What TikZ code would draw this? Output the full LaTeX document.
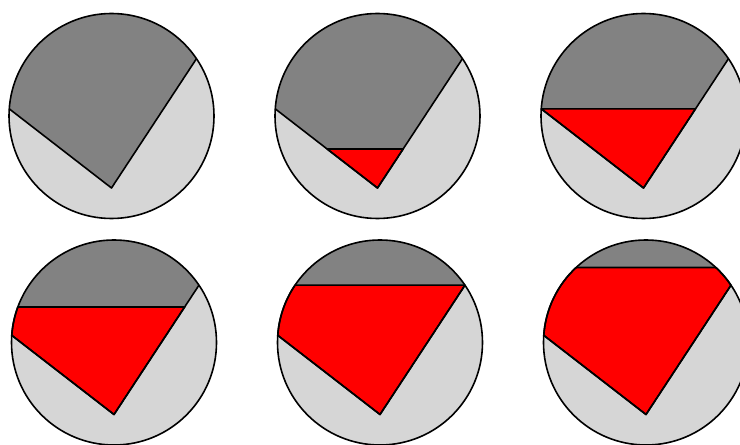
\documentclass[tikz,border=0pt]{standalone}
\usetikzlibrary{calc}
\definecolor{darkg}{RGB}{130,130,130}
\definecolor{lightg}{RGB}{214,214,214}
\tikzset{
  outline/.style={draw=black,line width=1.6pt,line join=round},
  redpart/.style={fill=red,draw=black,line width=1.6pt,line join=round}
}
\newcommand{\pieset}{%
  \coordinate (A) at (0pt,-72pt);
  \coordinate (L) at (176:102.5pt);
  \coordinate (R) at (34:102.5pt);
  \fill[lightg] (0,0) circle[radius=102.5pt];
  \fill[darkg] (A) -- (L) arc[start angle=176,end angle=34,radius=102.5pt] -- cycle;
}
\newcommand{\pieoutline}{%
  \draw[outline] (L) -- (A) -- (R);
  \draw[outline] (0,0) circle[radius=102.5pt];
}
\begin{document}
\begin{tikzpicture}[x=1pt,y=1pt]
\useasboundingbox (0,0) rectangle (740,445);
\clip (0,0) rectangle (740,445);
% circle 1
\begin{scope}[shift={(111.5,329)}]
  \pieset
  \pieoutline
\end{scope}
% circle 2
\begin{scope}[shift={(377.5,329)}]
  \pieset
  \draw[redpart] (A) -- ($(A)!0.4927!(L)$) -- ($(A)!0.3016!(R)$) -- cycle;
  \pieoutline
\end{scope}
% circle 3
\begin{scope}[shift={(643.5,329)}]
  \pieset
  \draw[redpart] (A) -- (L) -- ($(A)!0.612!(R)$) -- cycle;
  \pieoutline
\end{scope}
% circle 4
\begin{scope}[shift={(114,102.5)}]
  \pieset
  \draw[redpart] (A) -- (L) arc[start angle=176,end angle=159.74,radius=102.5pt] -- ($(A)!0.8313!(R)$) -- cycle;
  \pieoutline
\end{scope}
% circle 5
\begin{scope}[shift={(380,102.5)}]
  \pieset
  \draw[redpart] (A) -- (L) arc[start angle=176,end angle=146,radius=102.5pt] -- (R) -- cycle;
  \pieoutline
\end{scope}
% circle 6
\begin{scope}[shift={(646,102.5)}]
  \pieset
  \draw[redpart] (A) -- (L) arc[start angle=176,end angle=132.97,radius=102.5pt] -- (47.03:102.5pt) arc[start angle=47.03,end angle=34,radius=102.5pt] -- cycle;
  \pieoutline
\end{scope}
\end{tikzpicture}
\end{document}
